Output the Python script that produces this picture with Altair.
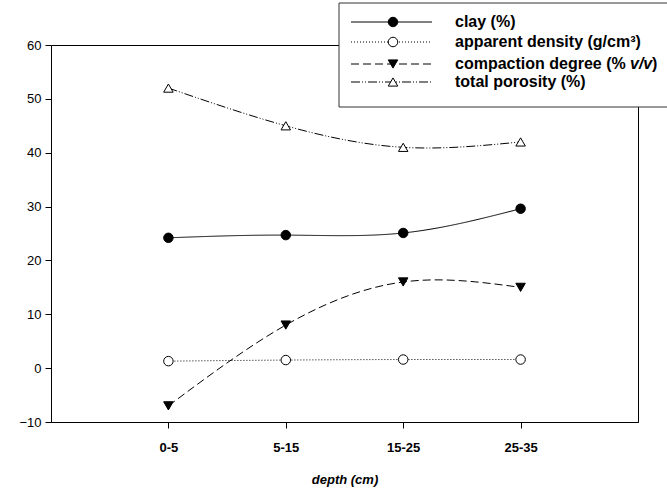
import altair as alt
import pandas as pd

depths = ["0-5", "5-15", "15-25", "25-35"]
series = ["clay (%)", "apparent density (g/cm³)", "compaction degree (% v/v)", "total porosity (%)"]
clay = [24.2, 24.7, 25.1, 29.6]
density = [1.3, 1.5, 1.6, 1.6]
compaction = [-7.0, 8.0, 16.0, 15.0]
porosity = [52.0, 45.0, 41.0, 42.0]
y_ticks = [-10, 0, 10, 20, 30, 40, 50, 60]

rows = []
for name, vals in zip(series, [clay, density, compaction, porosity]):
    for d, v in zip(depths, vals):
        rows.append({"depth": d, "value": v, "series": name})
df = pd.DataFrame(rows)

FONT = "Liberation Sans"
dashes = [[1, 0], [1, 2], [8, 4], [9, 2, 1, 2, 1, 2]]
shapes = ["circle", "circle", "triangle-down", "triangle-up"]
fills = ["black", "white", "black", "white"]

x_enc = alt.X("depth:O", sort=depths, scale=alt.Scale(type="point", padding=1),
              axis=alt.Axis(title="depth (cm)", labelAngle=0, labelFontWeight="bold",
                            labelFontSize=13, labelPadding=13, titleFontSize=13,
                            titleFontStyle="italic", titleFontWeight="bold", titlePadding=19))
y_enc = alt.Y("value:Q", scale=alt.Scale(domain=[-10, 60], nice=False, zero=False),
              axis=alt.Axis(title=None, values=y_ticks, labelFontSize=13, labelPadding=4))

base = alt.Chart(df)
lines = base.mark_line(interpolate="natural", color="black", strokeWidth=1).encode(
    x=x_enc, y=y_enc,
    strokeDash=alt.StrokeDash("series:N", scale=alt.Scale(domain=series, range=dashes), legend=None),
    detail="series:N",
)
points = base.mark_point(filled=True, stroke="black", strokeWidth=1, size=90, opacity=1).encode(
    x=x_enc, y=y_enc,
    shape=alt.Shape("series:N", scale=alt.Scale(domain=series, range=shapes), legend=None),
    fill=alt.Fill("series:N", scale=alt.Scale(domain=series, range=fills), legend=None),
)

# manual legend (pixel positions relative to plot origin)
PAD_L, PAD_T = 51, 45
box = alt.Chart(pd.DataFrame({"a": [0]})).mark_rect(fill="white", stroke="#333333", strokeWidth=1).encode(
    x=alt.value(339 - PAD_L), x2=alt.value(700 - PAD_L),
    y=alt.value(3 - PAD_T), y2=alt.value(107 - PAD_T))
leg_y = [22, 42, 64, 82]
leg_layers = [box]
for i, name in enumerate(series):
    ly = leg_y[i] - PAD_T
    leg_layers.append(alt.Chart(pd.DataFrame({"a": [0]})).mark_rule(
        color="black", strokeWidth=1, strokeDash=dashes[i]).encode(
        x=alt.value(351 - PAD_L), x2=alt.value(432 - PAD_L), y=alt.value(ly)))
    leg_layers.append(alt.Chart(pd.DataFrame({"a": [0]})).mark_point(
        shape=shapes[i], filled=True, fill=fills[i], stroke="black", strokeWidth=1, size=90, opacity=1).encode(
        x=alt.value(393 - PAD_L), y=alt.value(ly)))
label_texts = ["clay (%)", "apparent density (g/cm³)", "compaction degree (% ", "total porosity (%)"]
for i, t in enumerate(label_texts):
    leg_layers.append(alt.Chart(pd.DataFrame({"t": [t]})).mark_text(
        align="left", baseline="middle", font=FONT, fontSize=16, fontWeight="bold").encode(
        x=alt.value(455 - PAD_L), y=alt.value(leg_y[i] - PAD_T), text="t:N"))
leg_layers.append(alt.Chart(pd.DataFrame({"t": ["v/v"]})).mark_text(
    align="left", baseline="middle", font=FONT, fontSize=16, fontWeight="bold", fontStyle="italic").encode(
    x=alt.value(630 - PAD_L), y=alt.value(leg_y[2] - PAD_T), text="t:N"))
leg_layers.append(alt.Chart(pd.DataFrame({"t": [")"]})).mark_text(
    align="left", baseline="middle", font=FONT, fontSize=16, fontWeight="bold").encode(
    x=alt.value(652 - PAD_L), y=alt.value(leg_y[2] - PAD_T), text="t:N"))

chart = alt.layer(lines, points, *leg_layers).properties(
    width=587, height=377,
    autosize=alt.AutoSizeParams(type="none"),
    padding={"left": PAD_L, "top": PAD_T, "right": 29, "bottom": 66},
).configure_view(stroke="black", strokeWidth=1).configure_axis(
    grid=False, domainColor="black", tickColor="black", tickSize=6,
    labelColor="black", titleColor="black", labelFont=FONT, titleFont=FONT,
)

chart.save("out.html", embed_options={"renderer": "svg", "actions": False})
